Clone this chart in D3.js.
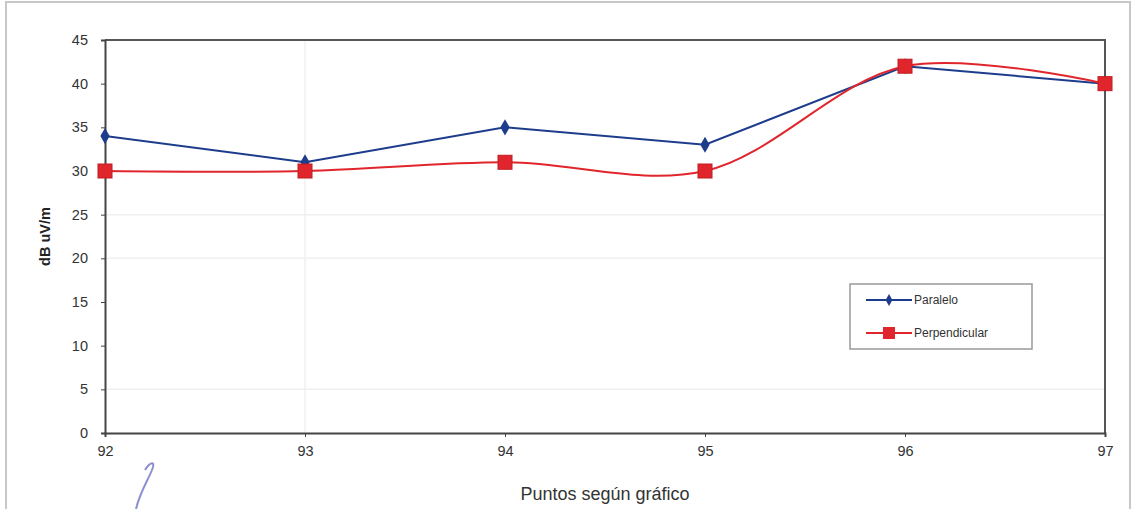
<!DOCTYPE html>
<html>
<head>
<meta charset="utf-8">
<script src="https://cdn.jsdelivr.net/npm/d3@7"></script>
<style>
  html, body { margin: 0; padding: 0; background: #fff; }
  svg { display: block; font-family: "Liberation Sans", Arial, sans-serif; }
</style>
</head>
<body>
<svg id="chart" width="1137" height="509"></svg>
<script>
// Measurement points and field strength readings (dB uV/m)
const puntos = [92, 93, 94, 95, 96, 97];
const paralelo = [34, 31, 35, 33, 42, 40];
const perpendicular = [30, 30, 31, 30, 42, 40];
const yTicks = [0, 5, 10, 15, 20, 25, 30, 35, 40, 45];
const faintGridY = [5, 20, 25];
const faintGridX = [93];
const seriesNames = ["Paralelo", "Perpendicular"];

const svg = d3.select("#chart");
const W = 1137, H = 509;
const m = { left: 105, right: 32, top: 40, bottom: 76 };

// Paper frame
svg.append("rect").attr("x", 6).attr("y", 2).attr("width", 1124).attr("height", 520)
  .attr("fill", "none").attr("stroke", "#c8c8c8").attr("stroke-width", 2);

const x = d3.scaleLinear().domain([92, 97]).range([m.left, W - m.right]);
const y = d3.scaleLinear().domain([0, 45]).range([H - m.bottom, m.top]);

// Faint background lines
svg.append("g").selectAll("line").data(faintGridY).join("line")
  .attr("x1", x(92)).attr("x2", x(97))
  .attr("y1", d => y(d)).attr("y2", d => y(d))
  .attr("stroke", "#f0f0f0").attr("stroke-width", 1.5);
svg.append("g").selectAll("line").data(faintGridX).join("line")
  .attr("x1", d => x(d)).attr("x2", d => x(d))
  .attr("y1", y(45)).attr("y2", y(0))
  .attr("stroke", "#f0f0f0").attr("stroke-width", 1.5);

// Plot frame (top and right)
svg.append("path")
  .attr("d", `M${x(92)},${y(45)}H${x(97)}V${y(0)}`)
  .attr("fill", "none").attr("stroke", "#555").attr("stroke-width", 2);

// Axes
const yAxis = svg.append("g").attr("transform", `translate(${x(92)},0)`)
  .call(d3.axisLeft(y).tickValues(yTicks).tickSize(4).tickPadding(13));
const xAxis = svg.append("g").attr("transform", `translate(0,${y(0)})`)
  .call(d3.axisBottom(x).tickValues(puntos).tickFormat(d3.format("d")).tickSize(4).tickPadding(9));
[yAxis, xAxis].forEach(g => {
  g.select(".domain").attr("stroke", "#444").attr("stroke-width", 2);
  g.selectAll(".tick line").attr("stroke", "#444");
  g.selectAll(".tick text").attr("fill", "#333").style("font-size", "14.5px")
    .style("font-family", "'Liberation Sans', Arial, sans-serif");
});

// Axis titles
svg.append("text")
  .attr("transform", `translate(46,${(y(0) + y(45)) / 2}) rotate(-90)`)
  .attr("text-anchor", "middle").attr("dominant-baseline", "middle")
  .attr("fill", "#222").style("font-size", "14.5px").style("font-weight", "bold")
  .text("dB uV/m");
svg.append("text")
  .attr("x", (x(92) + x(97)) / 2).attr("y", 500)
  .attr("text-anchor", "middle").attr("fill", "#333").style("font-size", "18px")
  .text("Puntos según gráfico");

const blue = "#1d3d8c", red = "#e0262c";
const pts = arr => puntos.map((p, i) => [p, arr[i]]);

// Paralelo: straight segments with diamond markers
svg.append("path").datum(pts(paralelo))
  .attr("d", d3.line().x(d => x(d[0])).y(d => y(d[1])))
  .attr("fill", "none").attr("stroke", blue).attr("stroke-width", 2);
svg.append("g").selectAll("path").data(pts(paralelo)).join("path")
  .attr("transform", d => `translate(${x(d[0])},${y(d[1])})`)
  .attr("d", d3.symbol(d3.symbolDiamond, 75))
  .attr("fill", blue);

// Perpendicular: smoothed curve with square markers
svg.append("path").datum(pts(perpendicular))
  .attr("d", d3.line().x(d => x(d[0])).y(d => y(d[1])).curve(d3.curveCatmullRom.alpha(0.5)))
  .attr("fill", "none").attr("stroke", red).attr("stroke-width", 2);
svg.append("g").selectAll("rect").data(pts(perpendicular)).join("rect")
  .attr("x", d => x(d[0]) - 7).attr("y", d => y(d[1]) - 7)
  .attr("width", 14).attr("height", 14)
  .attr("fill", red).attr("stroke", "#c01c22").attr("stroke-width", 1);

// Legend
const lg = svg.append("g").attr("transform", "translate(850,284)");
lg.append("rect").attr("width", 182).attr("height", 65)
  .attr("fill", "#fff").attr("stroke", "#999").attr("stroke-width", 1.5);
const colors = [blue, red];
seriesNames.forEach((name, i) => {
  const row = lg.append("g").attr("transform", `translate(0,${16 + i * 33})`);
  row.append("line").attr("x1", 16).attr("x2", 62)
    .attr("stroke", colors[i]).attr("stroke-width", 2);
  if (i === 0) {
    row.append("path").attr("transform", "translate(39,0)")
      .attr("d", d3.symbol(d3.symbolDiamond, 40)).attr("fill", blue);
  } else {
    row.append("rect").attr("x", 33).attr("y", -6).attr("width", 12).attr("height", 12)
      .attr("fill", red);
  }
  row.append("text").attr("x", 64).attr("dy", "0.35em")
    .attr("fill", "#333").style("font-size", "12px").text(name);
});

// Pen mark at the bottom of the sheet
svg.append("path")
  .attr("d", "M145,470 C150,462 156,460 152,470 C148,480 140,492 136,509")
  .attr("fill", "none").attr("stroke", "#6f74c4").attr("stroke-width", 2).attr("opacity", 0.8);
</script>
</body>
</html>
